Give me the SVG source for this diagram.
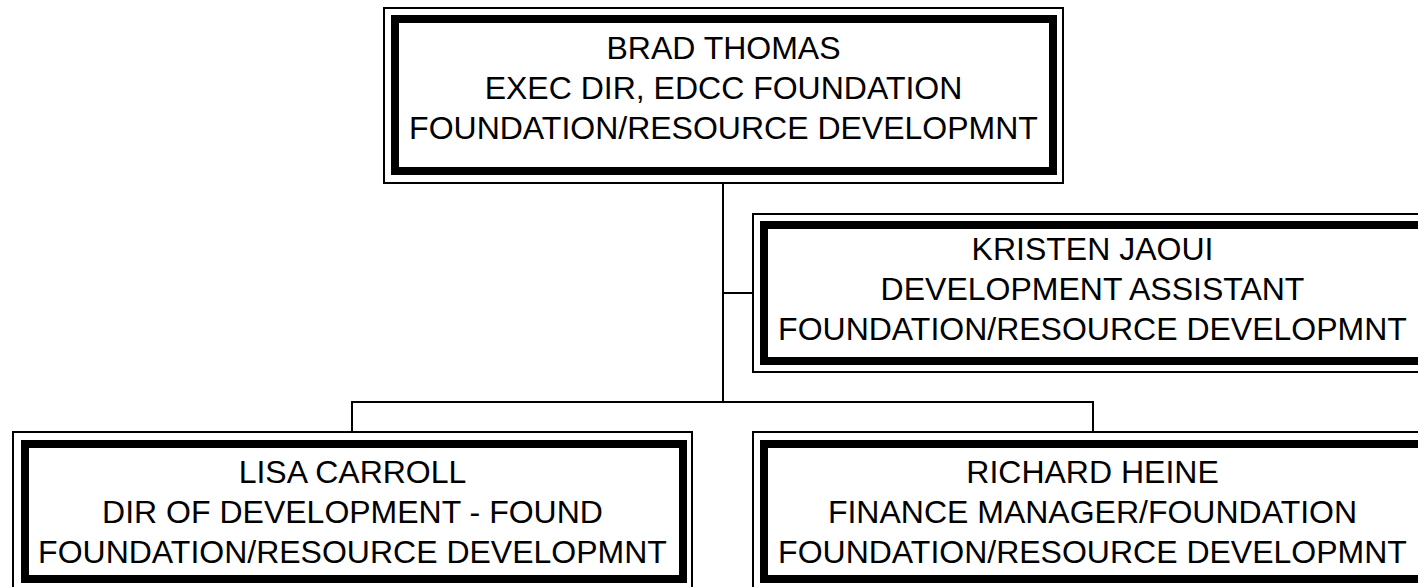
<svg xmlns="http://www.w3.org/2000/svg" width="1418" height="587" viewBox="0 0 1418 587">
<style>
.thin{fill:none;stroke:#000;stroke-width:2}
.thick{fill:#fff;stroke:#000;stroke-width:8}
text{font-family:"Liberation Sans",Arial,sans-serif;font-size:32px;fill:#000;text-anchor:middle}
.conn{stroke:#000;stroke-width:2;fill:none}
</style>
<rect x="0" y="0" width="1418" height="587" fill="#fff"/>
<g id="connectors">
<path class="conn" d="M723,183V402M723,293H753M352,402H1093M352,401V432M1093,401V432"/>
</g>
<g id="brad">
<rect class="thin" x="384" y="8" width="679" height="175"/>
<rect class="thick" x="395" y="19" width="658" height="152"/>
<text x="723.5" y="59">BRAD THOMAS</text>
<text x="723.5" y="99">EXEC DIR, EDCC FOUNDATION</text>
<text x="723.5" y="139">FOUNDATION/RESOURCE DEVELOPMNT</text>
</g>
<g id="kristen">
<rect class="thin" x="753" y="214" width="679" height="158"/>
<rect class="thick" x="764" y="225" width="658" height="136"/>
<text x="1092.5" y="260">KRISTEN JAOUI</text>
<text x="1092.5" y="300">DEVELOPMENT ASSISTANT</text>
<text x="1092.5" y="340">FOUNDATION/RESOURCE DEVELOPMNT</text>
</g>
<g id="lisa">
<rect class="thin" x="13" y="432" width="679" height="158"/>
<rect class="thick" x="25" y="444" width="658" height="135"/>
<text x="352.5" y="483">LISA CARROLL</text>
<text x="352.5" y="523">DIR OF DEVELOPMENT - FOUND</text>
<text x="352.5" y="563">FOUNDATION/RESOURCE DEVELOPMNT</text>
</g>
<g id="richard">
<rect class="thin" x="753" y="432" width="679" height="158"/>
<rect class="thick" x="764" y="444" width="658" height="135"/>
<text x="1092.5" y="483">RICHARD HEINE</text>
<text x="1092.5" y="523">FINANCE MANAGER/FOUNDATION</text>
<text x="1092.5" y="563">FOUNDATION/RESOURCE DEVELOPMNT</text>
</g>
</svg>
